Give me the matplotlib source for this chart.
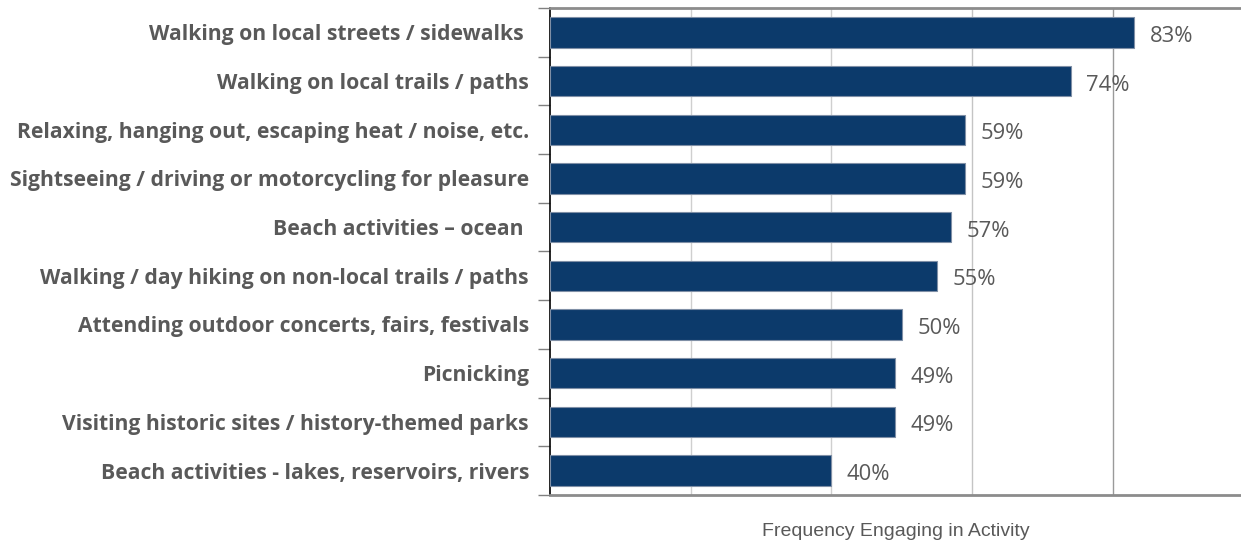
import numpy as np
import matplotlib.pyplot as plt
from matplotlib.ticker import FixedLocator, NullFormatter

activities = [
    "Walking on local streets / sidewalks ",
    "Walking on local trails / paths",
    "Relaxing, hanging out, escaping heat / noise, etc.",
    "Sightseeing / driving or motorcycling for pleasure",
    "Beach activities \u2013 ocean ",
    "Walking / day hiking on non-local trails / paths",
    "Attending outdoor concerts, fairs, festivals",
    "Picnicking",
    "Visiting historic sites / history-themed parks",
    "Beach activities - lakes, reservoirs, rivers",
]
shares = [0.83, 0.74, 0.59, 0.59, 0.57, 0.55, 0.50, 0.49, 0.49, 0.40]
bar_labels = ["83%", "74%", "59%", "59%", "57%", "55%", "50%", "49%", "49%", "40%"]
x_title = "Frequency Engaging in Activity"

fig = plt.figure(figsize=(12.41, 5.42), dpi=100)
ax = fig.add_axes([0.443, 0.087, 0.557, 0.898])

y = np.arange(len(activities))
ax.barh(y, shares, height=0.62, color="#0c3a6b", edgecolor="#7f8fa6", linewidth=0.8, zorder=3)

ax.set_xlim(0, 0.982)
ax.set_ylim(len(activities) - 0.5, -0.5)

# vertical gridlines every 20%
for gx, gc in zip([0.2, 0.4, 0.6, 0.8], ["#cfcfcf", "#cfcfcf", "#c4c4c4", "#9a9a9a"]):
    ax.axvline(gx, color=gc, linewidth=1.0, zorder=1)

for yi, v, lab in zip(y, shares, bar_labels):
    ax.text(v + 0.022, yi + 0.08, lab, va="center", ha="left",
            fontsize=15.8, color="#595959", family="Open Sans", zorder=4)

# category names on the left, ticks at category boundaries
ax.set_yticks(y)
ax.set_yticklabels(activities, fontsize=15.2, fontweight="bold",
                   color="#595959", family="Open Sans")
ax.tick_params(axis="y", which="major", length=0, pad=15)
ax.yaxis.set_minor_locator(FixedLocator(np.arange(-0.5, len(activities), 1.0)))
ax.yaxis.set_minor_formatter(NullFormatter())
ax.tick_params(axis="y", which="minor", length=9, width=1.0, color="#808080")

ax.set_xticks([])
ax.set_xlabel(x_title, fontsize=14, color="#595959", family="Liberation Sans", labelpad=20)

ax.spines["left"].set_color("#000000")
ax.spines["left"].set_linewidth(1.2)
ax.spines["top"].set_color("#8c8c8c")
ax.spines["top"].set_linewidth(2.0)
ax.spines["bottom"].set_color("#8c8c8c")
ax.spines["bottom"].set_linewidth(2.0)
ax.spines["right"].set_visible(False)

fig.savefig("out.png", dpi=100)
